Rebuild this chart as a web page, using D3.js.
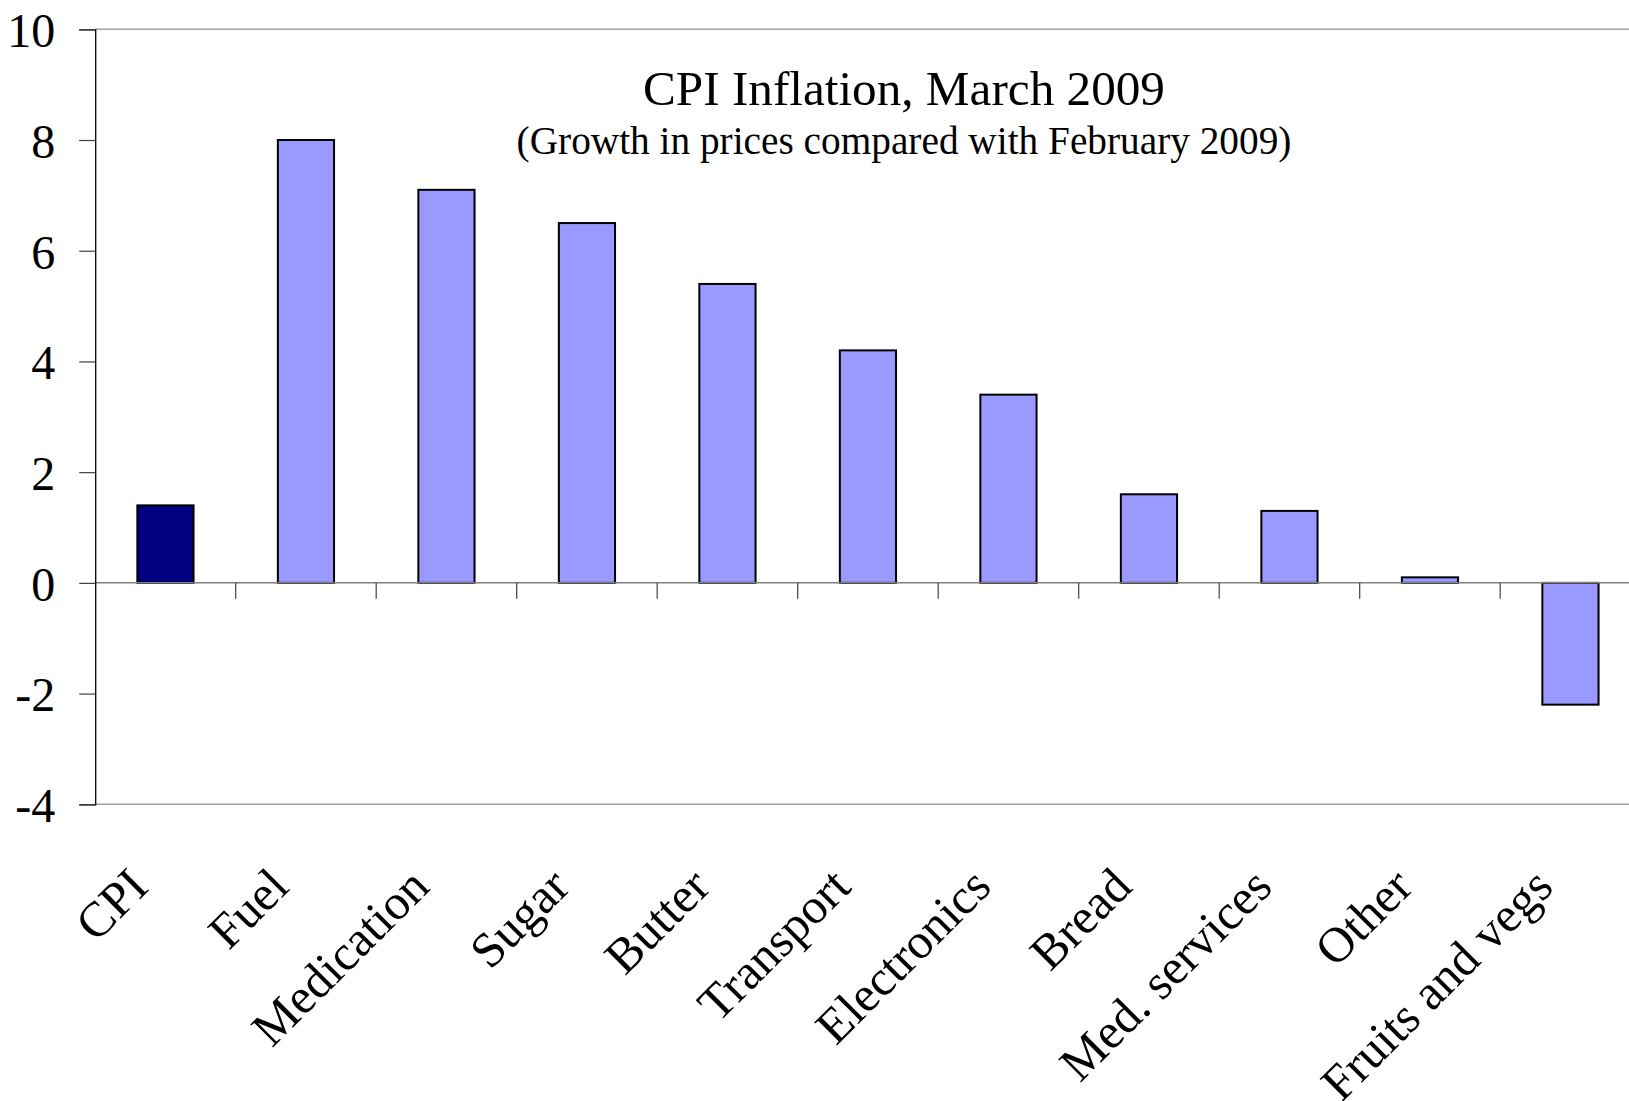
<!DOCTYPE html>
<html>
<head>
<meta charset="utf-8">
<script src="https://cdn.jsdelivr.net/npm/d3@7"></script>
<style>
  html, body { margin: 0; padding: 0; background: #ffffff; overflow: hidden; }
  svg { display: block; }
  text { font-family: "Liberation Serif", "Times New Roman", serif; fill: #000; }
</style>
</head>
<body>
<svg id="chart" width="1629" height="1101"></svg>
<script>
const categories = ["CPI", "Fuel", "Medication", "Sugar", "Butter", "Transport",
                    "Electronics", "Bread", "Med. services", "Other", "Fruits and vegs"];
const values = [1.4, 8.0, 7.1, 6.5, 5.4, 4.2, 3.4, 1.6, 1.3, 0.1, -2.2];
const highlight = ["CPI"];
const yTicks = [-4, -2, 0, 2, 4, 6, 8, 10];
const yDomain = [-4, 10];
const titleText = "CPI Inflation, March 2009";
const subtitleText = "(Growth in prices compared with February 2009)";

const svg = d3.select("#chart");
const plot = { left: 95.2, right: 1640.7, top: 29.3, bottom: 804.3 };

const x = d3.scaleBand()
  .domain(categories)
  .range([plot.left, plot.right])
  .paddingInner(0.6)
  .paddingOuter(0.3);

const y = d3.scaleLinear()
  .domain(yDomain)
  .range([plot.bottom, plot.top]);

// plot area border (top and bottom, gray)
svg.append("line")
  .attr("x1", plot.left).attr("x2", plot.right)
  .attr("y1", y(yDomain[1])).attr("y2", y(yDomain[1]))
  .attr("stroke", "#a0a0a0").attr("stroke-width", 1.5);
svg.append("line")
  .attr("x1", plot.left).attr("x2", plot.right)
  .attr("y1", y(yDomain[0])).attr("y2", y(yDomain[0]))
  .attr("stroke", "#a0a0a0").attr("stroke-width", 1.5);

// bars
svg.append("g").selectAll("rect")
  .data(categories.map((c, i) => ({ c, v: values[i] })))
  .join("rect")
  .attr("x", d => x(d.c))
  .attr("width", x.bandwidth())
  .attr("y", d => y(Math.max(0, d.v)))
  .attr("height", d => Math.abs(y(d.v) - y(0)))
  .attr("fill", d => highlight.includes(d.c) ? "#000080" : "#9999ff")
  .attr("stroke", "#000")
  .attr("stroke-width", 2);

// zero line (category axis)
svg.append("line")
  .attr("x1", plot.left).attr("x2", plot.right)
  .attr("y1", y(0)).attr("y2", y(0))
  .attr("stroke", "#808080").attr("stroke-width", 1.5);

// category boundary tick marks
const step = x.step();
svg.append("g").selectAll("line")
  .data(categories.slice(1))
  .join("line")
  .attr("x1", c => x(c) - step * 0.3)
  .attr("x2", c => x(c) - step * 0.3)
  .attr("y1", y(0))
  .attr("y2", y(0) + 16)
  .attr("stroke", "#404040").attr("stroke-width", 1.2);

// y axis
const yAxis = d3.axisLeft(y)
  .tickValues(yTicks)
  .tickSize(16)
  .tickPadding(24)
  .tickFormat(d => String(d));
const gy = svg.append("g")
  .attr("transform", `translate(${plot.left},0)`)
  .call(yAxis);
gy.select(".domain").attr("stroke", "#000").attr("stroke-width", 1.3);
gy.selectAll(".tick line").attr("stroke", "#404040").attr("stroke-width", 1.2);
gy.selectAll(".tick text")
  .attr("font-family", "'Liberation Serif', 'Times New Roman', serif")
  .attr("font-size", 48)
  .attr("fill", "#000")
  .attr("dy", "0.36em");

// category labels (rotated)
svg.append("g").selectAll("text")
  .data(categories)
  .join("text")
  .attr("text-anchor", "end")
  .attr("font-size", 49.5)
  .attr("transform", c => `translate(${x(c) + x.bandwidth() / 2 - 15},889) rotate(-45)`)
  .text(c => c);

// titles
svg.append("text")
  .attr("x", 904).attr("y", 105)
  .attr("text-anchor", "middle")
  .attr("font-size", 49.2)
  .text(titleText);
svg.append("text")
  .attr("x", 904).attr("y", 154)
  .attr("text-anchor", "middle")
  .attr("font-size", 39.3)
  .text(subtitleText);
</script>
</body>
</html>
